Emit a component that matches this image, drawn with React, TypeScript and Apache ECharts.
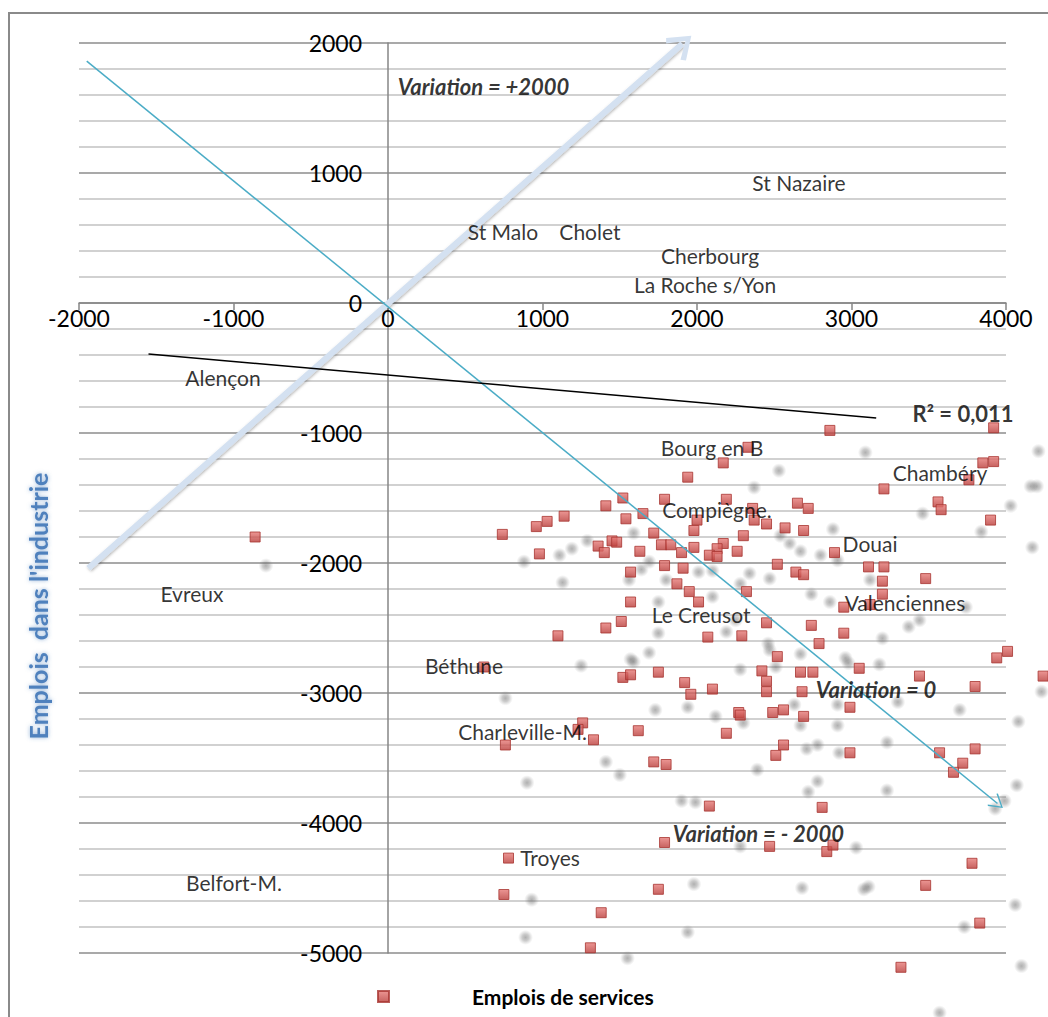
import React, { useEffect, useRef } from "react";
import * as echarts from "echarts";

const FONT = "Lato, 'Open Sans', sans-serif";

// axis ranges / ticks
const xRange = [-2000, 4000];
const yRange = [-5000, 2000];
const tickStep = 1000;

// Emplois de services (variation services, variation industrie)
const servicesPoints: [number, number][] = [
  [-860, -1800], [740, -1780], [960, -1720], [1030, -1680], [1140, -1640], [1410, -1560],
  [1520, -1500], [1790, -1510], [1540, -1660], [1650, -1620], [1720, -1770], [980, -1930],
  [1360, -1870], [1400, -1920], [1450, -1830], [1480, -1840], [1630, -1910], [1770, -1860],
  [1830, -1860], [1570, -2070], [1790, -2020], [1570, -2300], [1510, -2450], [1410, -2500],
  [1100, -2560], [620, -2800], [1520, -2880], [1570, -2860], [1750, -2840],
  [2860, -980], [2330, -1110], [2170, -1230], [1940, -1340], [2190, -1510], [2000, -1670],
  [1980, -1750], [2360, -1580], [2370, -1670], [2450, -1700], [2570, -1730], [2650, -1540],
  [2720, -1580], [2690, -1750], [2300, -1790], [1980, -1880], [1900, -1920], [2170, -1850],
  [2130, -1890], [2080, -1940], [2130, -1950], [2260, -1910], [2890, -1920], [1910, -2040],
  [2520, -2010], [2640, -2070], [2690, -2090], [1870, -2160], [1950, -2220], [2320, -2220],
  [2010, -2300], [2950, -2340], [2450, -2460], [2740, -2480], [2070, -2570], [2290, -2560],
  [2950, -2540], [2790, -2620], [2520, -2720], [2420, -2830], [2670, -2840], [2750, -2840],
  [3050, -2810], [1920, -2920], [2100, -2970], [1960, -3010], [2450, -2910], [2450, -2990],
  [2680, -2990],
  [3920, -960], [3850, -1230], [3920, -1220], [3760, -1360], [3210, -1430], [3560, -1530],
  [3580, -1590], [3900, -1670], [3110, -2030], [3210, -2030], [3200, -2140], [3480, -2120],
  [3200, -2240], [3120, -2320], [4010, -2680], [3940, -2730], [3440, -2870], [4240, -2870],
  [3800, -2950],
  [1260, -3230], [1230, -3280], [1330, -3360], [760, -3400], [1620, -3290], [1720, -3530],
  [1800, -3550], [1790, -4150], [780, -4270], [750, -4550], [1750, -4510], [1380, -4690],
  [1310, -4960],
  [2270, -3150], [2280, -3170], [2490, -3150], [2560, -3130], [2690, -3180], [2990, -3110],
  [2190, -3310], [2560, -3400], [2510, -3480], [2990, -3460], [3570, -3460], [3800, -3430],
  [3720, -3540], [3660, -3610], [2080, -3870], [2810, -3880], [2470, -4180], [2840, -4220],
  [2880, -4170], [3780, -4310], [3480, -4480], [3830, -4770], [3320, -5110],
];

// blurred grey shadow marks
const shadowPoints: [number, number][] = [
  [-790, -2020], [880, -1990], [1110, -1940], [1190, -1890], [1290, -1830], [1130, -2150],
  [1590, -1770], [1640, -2050], [1560, -2130], [1750, -2300], [1750, -2540], [1690, -2690],
  [1570, -2740], [1250, -2790], [760, -3040], [1800, -2130], [2530, -1290], [2370, -1420],
  [2880, -1740], [2540, -1790], [2600, -1850], [2670, -1910], [2800, -1940], [2910, -1980],
  [2340, -2080], [2280, -2160], [2470, -2120], [2740, -2240], [2860, -2300], [2250, -2440],
  [2190, -2530], [2470, -2670], [2670, -2700], [2960, -2730], [2280, -2820], [2100, -2060],
  [3090, -1150], [4210, -1140], [4160, -1410], [4200, -1410], [4030, -1560], [3460, -1620],
  [3840, -1760], [4170, -1880], [3120, -2130], [3440, -2440], [3370, -2490], [3200, -2580],
  [3740, -2340], [3180, -2780], [2010, -2070], [1690, -1990], [2100, -2260], [2460, -2620],
  [1590, -2760], [2510, -2800], [2980, -2770], [1730, -3130], [1940, -3110], [2120, -3180],
  [2300, -3230], [2630, -3090], [2670, -3250], [2910, -3090], [2910, -3250], [3300, -3070],
  [3700, -3130], [4080, -3220], [4230, -2990], [1410, -3530], [1500, -3630], [900, -3690],
  [2390, -3590], [2710, -3430], [2780, -3400], [2920, -3460], [3230, -3380], [2780, -3680],
  [2720, -3760], [3230, -3750], [4070, -3710], [1900, -3830], [1990, -3840], [3930, -3890],
  [3990, -3830], [2280, -4180], [3030, -4190], [1980, -4470], [2680, -4500], [3080, -4510],
  [3110, -4490], [930, -4590], [4060, -4630], [890, -4880], [1940, -4840], [3730, -4800],
  [1550, -5040], [4100, -5100], [3570, -5460],
];

// city names and where they sit (data coordinates)
const cityNames = [
  "St Nazaire", "St Malo", "Cholet", "Cherbourg", "La Roche s/Yon", "Alençon",
  "Bourg en B", "Chambéry", "Compiègne.", "Douai", "Evreux", "Valenciennes",
  "Le Creusot", "Béthune", "Charleville-M.", "Troyes", "Belfort-M.",
];
const cityPos: [number, number][] = [
  [2660, 924], [744, 547], [1307, 547], [2084, 362], [2052, 146], [-1068, -570],
  [2097, -1109], [3573, -1301], [2129, -1586], [3120, -1848], [-1269, -2232], [3346, -2302],
  [2026, -2394], [492, -2787], [871, -3295], [1049, -4265], [-997, -4457],
];

// annotations
const noteTexts = ["Variation = +2000", "Variation = 0", "Variation = - 2000", "R² = 0,011"];
const notePos: [number, number][] = [[618, 1663], [3159, -2972], [2398, -4080], [3722, -847]];
const noteItalic = [true, true, true, false];

// guide lines
const varZeroLine: [number, number][] = [[-1950, 1860], [3945, -3850]];
const varPlusLine: [number, number][] = [[-1940, -2040], [1905, 1995]];
const trendLine: [number, number][] = [[-1550, -393], [3160, -885]];

const thinChevron = "path://M50,0 L100,86 L93,93 L50,16 L7,93 L0,86 Z";
const thickChevron = "path://M50,0 L100,78 L86,92 L50,30 L14,92 L0,78 Z";

// pixel layout of the plot
const GRID = { left: 79, right: 42, top: 43, bottom: 64 };
const W = 1048;
const H = 1017;

function guideSeries(name: string, pts: [number, number][], color: string, width: number, endSymbol: string, endSize: number[], z: number, shadow: boolean) {
  return {
    name,
    type: "line",
    clip: false,
    silent: true,
    z,
    showSymbol: false,
    data: [],
    markLine: {
      silent: true,
      animation: false,
      symbol: ["none", endSymbol],
      symbolSize: endSize,
      label: { show: false },
      emphasis: { disabled: true },
      itemStyle: { color },
      lineStyle: shadow
        ? { color, width, type: "solid", opacity: 1, shadowBlur: 3, shadowColor: "rgba(0,0,0,0.3)", shadowOffsetX: 1, shadowOffsetY: 1 }
        : { color, width, type: "solid", opacity: 1 },
      data: [[{ coord: pts[0] }, { coord: pts[1] }]],
    },
  };
}

export default function App() {
  const ref = useRef<HTMLDivElement>(null);
  useEffect(() => {
    if (!ref.current) return;
    const chart = echarts.init(ref.current, undefined, { renderer: "svg" });
    const redFill = new echarts.graphic.LinearGradient(0, 0, 0, 1, [
      { offset: 0, color: "#e77b78" },
      { offset: 1, color: "#b93b38" },
    ]);
    const greyBlur = new echarts.graphic.RadialGradient(0.5, 0.5, 0.5, [
      { offset: 0, color: "rgba(95,95,95,0.62)" },
      { offset: 0.45, color: "rgba(110,110,110,0.45)" },
      { offset: 1, color: "rgba(140,140,140,0)" },
    ]);
    const plotH = H - GRID.top - GRID.bottom;
    const plotW = W - GRID.left - GRID.right;
    const zeroYOffset = -(plotH * (0 - yRange[0])) / (yRange[1] - yRange[0]);
    const zeroXOffset = -(plotW * (0 - xRange[0])) / (xRange[1] - xRange[0]);
    const option: any = {
      animation: false,
      textStyle: { fontFamily: FONT },
      grid: { ...GRID, containLabel: false, outerBoundsMode: "none" },
      xAxis: {
        type: "value",
        position: "bottom",
        offset: zeroYOffset,
        min: xRange[0],
        max: xRange[1],
        interval: tickStep,
        axisLine: { onZero: false, lineStyle: { color: "#868686", width: 1.5 } },
        axisTick: { show: true, length: 7, lineStyle: { color: "#868686", width: 1.5 } },
        axisLabel: { color: "#000", fontSize: 23, margin: 3, fontFamily: FONT, formatter: (v: number) => String(v) },
        splitLine: { show: false },
      },
      yAxis: {
        type: "value",
        position: "left",
        offset: zeroXOffset,
        min: yRange[0],
        max: yRange[1],
        interval: tickStep,
        axisLine: { onZero: false, lineStyle: { color: "#868686", width: 1.5 } },
        axisTick: { show: false },
        axisLabel: { color: "#000", fontSize: 23, margin: 26, fontFamily: FONT, formatter: (v: number) => String(v) },
        splitLine: { show: true, lineStyle: { color: "#8c8c8c", width: 1.5 } },
        minorTick: { show: false, splitNumber: 5 },
        minorSplitLine: { show: true, lineStyle: { color: "#c2c2c2", width: 1.5 } },
      },
      legend: {
        data: ["Emplois de services"],
        left: 372,
        top: 981,
        icon: "rect",
        itemWidth: 11,
        itemHeight: 11,
        textStyle: { fontSize: 21, fontWeight: "bold", color: "#000", fontFamily: FONT, padding: [0, 0, 0, 78] },
      },
      graphic: [
        {
          type: "rect",
          silent: true,
          z: -10,
          shape: { x: 9, y: 13, width: 1200, height: 1200 },
          style: { fill: "none", stroke: "#8a8a8a", lineWidth: 2 },
        },
        {
          type: "text",
          x: 38,
          y: 606,
          rotation: Math.PI / 2,
          style: {
            text: "Emplois  dans l'industrie",
            fill: "#4f81bd",
            fontSize: 25,
            fontWeight: "bold",
            fontFamily: FONT,
            textAlign: "center",
            textVerticalAlign: "middle",
            textShadowColor: "rgba(79,129,189,0.6)",
            textShadowBlur: 4,
          },
        },
      ],
      series: [
        {
          name: "ombre",
          type: "scatter",
          clip: false,
          silent: true,
          z: 1,
          symbol: "circle",
          symbolSize: 15,
          itemStyle: { color: greyBlur },
          data: shadowPoints,
        },
        guideSeries("variation +2000", varPlusLine, "#d4e1f1", 6, thickChevron, [30, 24], 2, true),
        guideSeries("variation 0", varZeroLine, "#4bacc6", 1.5, thinChevron, [16, 14], 3, false),
        guideSeries("tendance", trendLine, "#000000", 1.5, "none", [1, 1], 3, false),
        {
          name: "Emplois de services",
          type: "scatter",
          clip: false,
          z: 4,
          symbol: "rect",
          symbolSize: 10,
          itemStyle: { color: redFill, borderColor: "#a83431", borderWidth: 1 },
          data: servicesPoints,
        },
        {
          name: "villes",
          type: "scatter",
          clip: false,
          silent: true,
          z: 6,
          symbolSize: 1,
          itemStyle: { color: "transparent" },
          label: {
            show: true,
            position: "inside",
            formatter: "{b}",
            color: "#000",
            fontSize: 21,
            fontFamily: FONT,
          },
          data: cityNames.map((n, i) => ({ name: n, value: cityPos[i] })),
        },
        {
          name: "notes",
          type: "scatter",
          clip: false,
          silent: true,
          z: 6,
          symbolSize: 1,
          itemStyle: { color: "transparent" },
          label: {
            show: true,
            position: "inside",
            formatter: "{b}",
            color: "#000",
            fontSize: 22,
            fontWeight: "bold",
            fontFamily: FONT,
          },
          data: noteTexts.map((n, i) => ({
            name: n,
            value: notePos[i],
            label: { fontStyle: noteItalic[i] ? "italic" : "normal" },
          })),
        },
      ],
    };
    chart.setOption(option);
    return () => chart.dispose();
  }, []);
  return (
    <div
      ref={ref}
      style={{ position: "fixed", left: 0, top: 0, width: W, height: H, background: "#fff" }}
    />
  );
}
